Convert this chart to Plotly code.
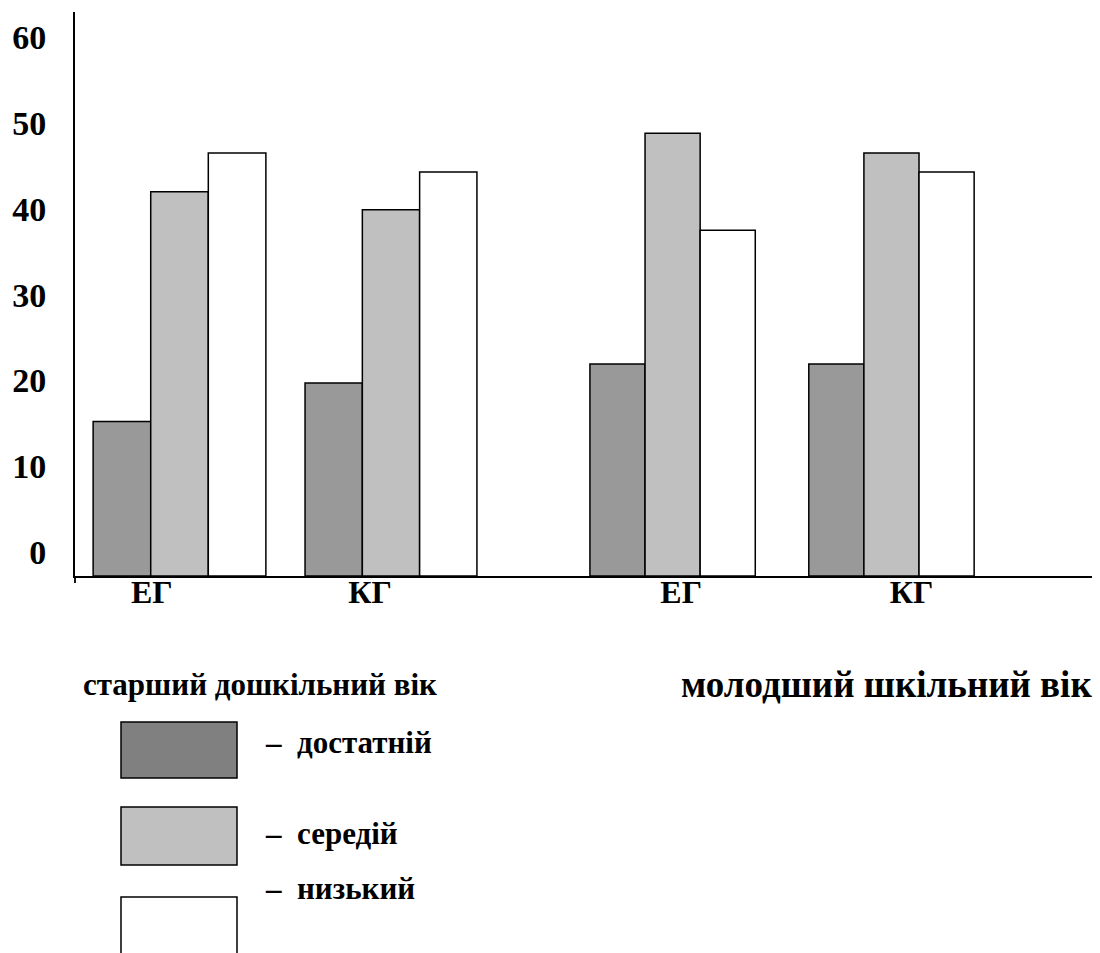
import plotly.graph_objects as go

# ---------------- data ----------------
GROUP_LABELS = ["ЕГ", "КГ", "ЕГ", "КГ"]
AGE_LABELS = ["старший дошкільний вік", "молодший шкільний вік"]
SERIES_NAMES = ["достатній", "середій", "низький"]
dostatnii = [15.2, 19.7, 21.9, 21.9]
serednii = [42.0, 39.9, 48.8, 46.5]
nyzkyi = [46.5, 44.3, 37.5, 44.3]
Y_TICKS = [0, 10, 20, 30, 40, 50, 60]

# ---------------- layout constants ----------------
W, H = 1100, 953
ML, MR, MT, MB = 75, 8, 12, 377
PW = W - ML - MR
PH = H - MT - MB
X_RANGE = [0, 17.75]
Y_RANGE = [-2.8, 62.94]
GROUP_POS = [1.824, 5.515, 10.43, 14.25]
TICK_POS = [1.34, 5.15, 10.58, 14.6]
BAR_W = [1.005, 1.0, 0.962, 0.962]
BAR_COLORS = ["#999999", "#c0c0c0", "#ffffff"]
LEGEND_COLORS = ["#808080", "#c0c0c0", "#ffffff"]
FONT = "Liberation Serif, Times New Roman, serif"


def px_x(p):
    return (p - ML) / PW


def px_y(p):
    return (MT + PH - p) / PH


fig = go.Figure()
series = [dostatnii, serednii, nyzkyi]
for k, (name, vals) in enumerate(zip(SERIES_NAMES, series)):
    fig.add_trace(go.Bar(
        x=GROUP_POS, y=[v - Y_RANGE[0] for v in vals], name=name,
        base=Y_RANGE[0],
        customdata=vals, hovertemplate="%{customdata}<extra>" + name + "</extra>",
        width=BAR_W, offset=[(k - 1.5) * w for w in BAR_W],
        marker=dict(color=BAR_COLORS[k], line=dict(color="#000000", width=1.5)),
        showlegend=False,
    ))

fig.update_layout(
    width=W, height=H,
    margin=dict(l=ML, r=MR, t=MT, b=MB, pad=0),
    paper_bgcolor="white", plot_bgcolor="white",
    barmode="overlay",
    font=dict(family=FONT, color="black"),
    xaxis=dict(
        range=X_RANGE, showgrid=False, zeroline=False,
        showline=True, linecolor="black", linewidth=1.8,
        tickvals=TICK_POS, ticktext=GROUP_LABELS, ticks="",
        tickfont=dict(family=FONT, size=32, color="black", weight="bold"),
        ticklabelstandoff=-13,
    ),
    yaxis=dict(
        range=Y_RANGE, showgrid=False, zeroline=False,
        showline=True, linecolor="black", linewidth=1.8,
        tickvals=Y_TICKS, ticktext=[str(t) for t in Y_TICKS], ticks="",
        tickfont=dict(family=FONT, size=34, color="black", weight="bold"),
        ticklabelstandoff=20,
    ),
)

# extension of y axis line below x axis
fig.add_shape(type="line", xref="paper", yref="paper",
              x0=0, x1=0, y0=0, y1=px_y(583),
              line=dict(color="black", width=1.8))

# age group titles
for txt, cx, sz in zip(AGE_LABELS, [259.5, 886.5], [31, 37]):
    fig.add_annotation(text="<b>%s</b>" % txt, xref="paper", yref="paper",
                       x=px_x(cx), y=px_y(684), xanchor="center", yanchor="middle",
                       showarrow=False, font=dict(family=FONT, size=sz, color="black"))

# custom legend
rects = [(722, 778), (807, 865), (897, 955)]
text_y = [742, 833, 888]
for k, name in enumerate(SERIES_NAMES):
    y0, y1 = rects[k]
    fig.add_shape(type="rect", xref="paper", yref="paper",
                  x0=px_x(121), x1=px_x(237), y0=px_y(y1), y1=px_y(y0),
                  fillcolor=LEGEND_COLORS[k], line=dict(color="black", width=1.5))
    fig.add_annotation(text="<b>–  %s</b>" % name, xref="paper", yref="paper",
                       x=px_x(263), y=px_y(text_y[k]), xanchor="left", yanchor="middle",
                       showarrow=False, font=dict(family=FONT, size=31, color="black"))

fig.write_html("out.html",
               config={"displayModeBar": False},
               post_script="document.body.style.margin='0px';document.body.style.overflow='hidden';")
